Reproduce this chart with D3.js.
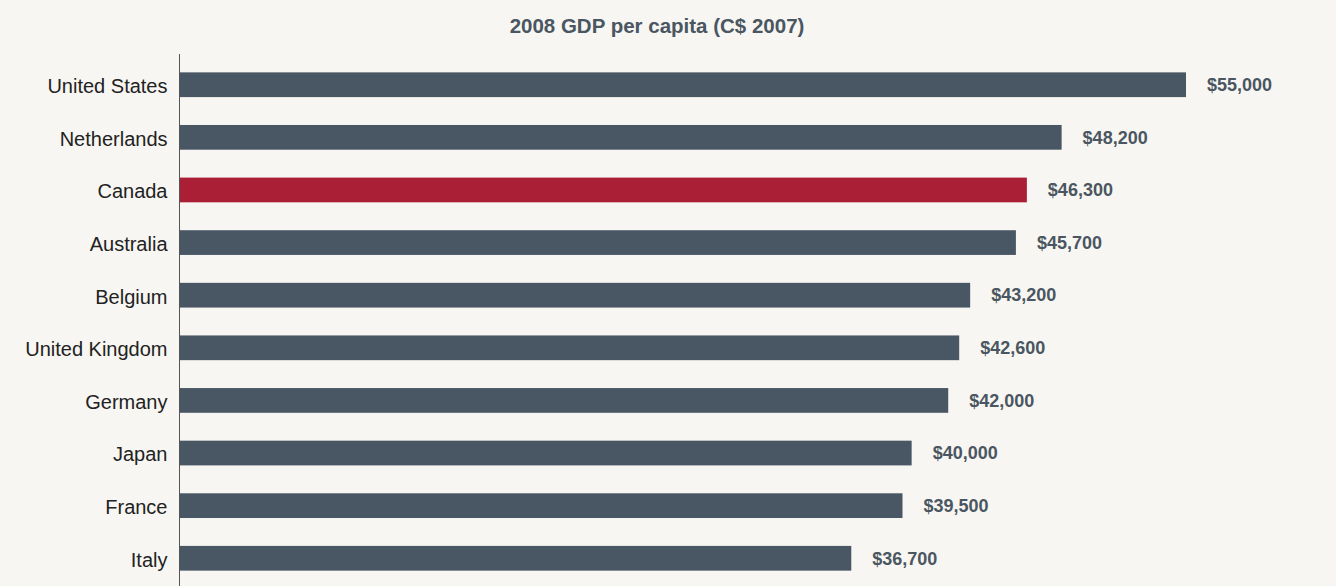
<!DOCTYPE html>
<html>
<head>
<meta charset="utf-8">
<script src="https://cdn.jsdelivr.net/npm/d3@7"></script>
<style>
  body { margin: 0; background: #f8f6f2; }
  svg { display: block; font-family: "Liberation Sans", Arial, Helvetica, sans-serif; }
</style>
</head>
<body>
<div id="container"></div>
<script>
// data
const countries = ["United States", "Netherlands", "Canada", "Australia", "Belgium",
  "United Kingdom", "Germany", "Japan", "France", "Italy"];
const gdp = [55000, 48200, 46300, 45700, 43200, 42600, 42000, 40000, 39500, 36700];
const highlighted = ["Canada"];
const title = "2008 GDP per capita (C$ 2007)";

const width = 1336;
const height = 586;
const marginTop = 54;
const marginLeft = 180;

const data = countries.map((c, i) => ({ country: c, value: gdp[i] }));

const x = d3.scaleLinear()
  .domain([0, 55000])
  .range([marginLeft, 1186]);

const y = d3.scaleBand()
  .domain(countries)
  .range([marginTop + 1, height + 2])
  .paddingInner(0.53)
  .paddingOuter(0.33);

const svg = d3.create("svg")
  .attr("width", width)
  .attr("height", height)
  .attr("viewBox", [0, 0, width, height]);

svg.append("rect")
  .attr("width", width)
  .attr("height", height)
  .attr("fill", "#f8f6f2");

// title
svg.append("text")
  .attr("x", 657)
  .attr("y", 33)
  .attr("text-anchor", "middle")
  .attr("font-size", 20.5)
  .attr("font-weight", "bold")
  .attr("fill", "#4a5661")
  .text(title);

// bars
svg.append("g")
  .selectAll()
  .data(data)
  .join("rect")
  .attr("x", x(0))
  .attr("y", d => y(d.country))
  .attr("width", d => x(d.value) - x(0))
  .attr("height", y.bandwidth())
  .attr("fill", d => highlighted.includes(d.country) ? "#aa1e36" : "#495663");

// value labels
svg.append("g")
  .selectAll()
  .data(data)
  .join("text")
  .attr("x", d => x(d.value) + 21)
  .attr("y", d => y(d.country) + y.bandwidth() / 2)
  .attr("dy", "0.35em")
  .attr("font-size", 18)
  .attr("font-weight", "bold")
  .attr("fill", "#4a5661")
  .text(d => "$" + d3.format(",")(d.value));

// category axis
svg.append("g")
  .attr("transform", `translate(${marginLeft - 0.5},0)`)
  .call(d3.axisLeft(y).tickSize(0).tickPadding(12))
  .call(g => g.select(".domain").attr("stroke", "#555").attr("d", `M0,${marginTop}V${height}`))
  .selectAll(".tick text")
  .attr("font-size", 20)
  .attr("font-family", "\"Liberation Sans\", Arial, sans-serif")
  .attr("fill", "#222")
  .attr("dy", "0.42em");

container.append(svg.node());
</script>
</body>
</html>
